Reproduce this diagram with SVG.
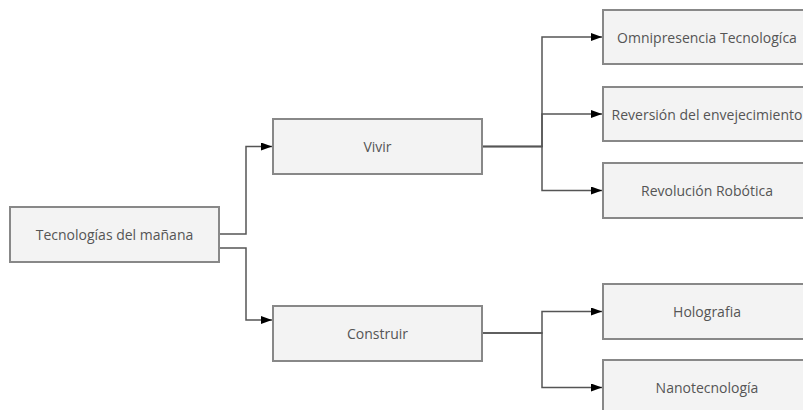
<svg xmlns="http://www.w3.org/2000/svg" width="803" height="410" viewBox="0 0 803 410">
<style>
.box{fill:#f3f3f3;stroke:#888;stroke-width:2}
.lbl{font-family:"Open Sans",sans-serif;font-size:14px;fill:#555;text-anchor:middle;dominant-baseline:central}
.con{fill:none;stroke:#555;stroke-width:1.5}
</style>
<defs>
<marker id="arr" viewBox="0 0 10 10" refX="10" refY="5" markerWidth="11" markerHeight="8" markerUnits="userSpaceOnUse" orient="auto" preserveAspectRatio="none">
<path d="M0,0 L10,5 L0,10 Z" fill="#000"/>
</marker>
</defs>
<rect width="803" height="410" fill="#fff"/>
<g id="connectors">
<path class="con" d="M219,234 H246 V146.5 H272" marker-end="url(#arr)"/>
<path class="con" d="M219,248 H246 V320 H272" marker-end="url(#arr)"/>
<path class="con" d="M482,146.5 H542 V37 H602" marker-end="url(#arr)"/>
<path class="con" d="M482,146.5 H542 V114 H602" marker-end="url(#arr)"/>
<path class="con" d="M482,146.5 H542 V190.5 H602" marker-end="url(#arr)"/>
<path class="con" d="M482,333 H542 V311.5 H602" marker-end="url(#arr)"/>
<path class="con" d="M482,333 H542 V387.5 H602" marker-end="url(#arr)"/>
</g>
<g id="root"><rect class="box" x="10" y="207" width="209" height="55"/><text class="lbl" x="114.5" y="234.5">Tecnologías del mañana</text></g>
<g id="vivir"><rect class="box" x="273" y="119" width="209" height="55"/><text class="lbl" x="377.5" y="146.5">Vivir</text></g>
<g id="construir"><rect class="box" x="273" y="306" width="209" height="55"/><text class="lbl" x="377.5" y="333.5">Construir</text></g>
<g id="omnipresencia"><rect class="box" x="603" y="10" width="209" height="54"/><text class="lbl" x="707" y="37">Omnipresencia Tecnologíca</text></g>
<g id="reversion"><rect class="box" x="603" y="87" width="209" height="54"/><text class="lbl" x="707" y="114">Reversión del envejecimiento</text></g>
<g id="revolucion"><rect class="box" x="603" y="163" width="209" height="55"/><text class="lbl" x="707" y="190.5">Revolución Robótica</text></g>
<g id="holografia"><rect class="box" x="603" y="284" width="209" height="55"/><text class="lbl" x="707" y="311.5">Holografia</text></g>
<g id="nanotecnologia"><rect class="box" x="603" y="360" width="209" height="55"/><text class="lbl" x="707" y="387.5">Nanotecnología</text></g>
</svg>
